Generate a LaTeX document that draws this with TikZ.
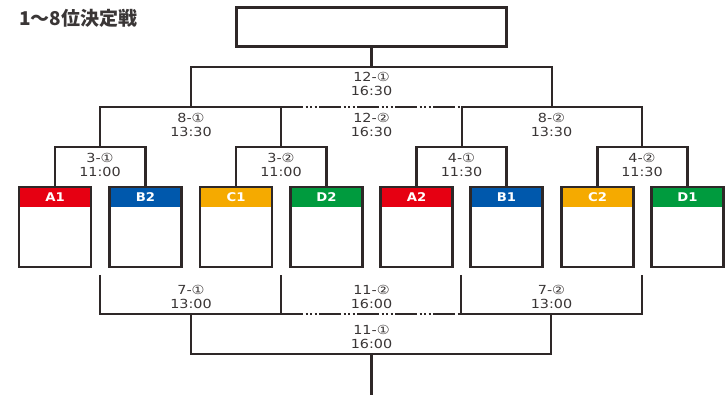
\documentclass[tikz,border=0pt]{standalone}
\usepackage{fontspec}
\newfontfamily\labfont[FakeStretch=1.15]{DejaVu Sans}
\newfontfamily\hdrfont[FakeStretch=1.1]{DejaVu Sans}
\newfontfamily\cjkfont{Noto Sans CJK JP}
\definecolor{lc}{HTML}{2E2828}
\definecolor{tc}{HTML}{3A3636}
\definecolor{cred}{RGB}{230,0,18}
\definecolor{cblue}{RGB}{0,88,172}
\definecolor{corange}{RGB}{245,170,0}
\definecolor{cgreen}{RGB}{0,155,62}
\tikzset{
  line/.style={draw=lc, line width=2.1pt},
  dotline/.style={draw=lc, line width=2.1pt, dash pattern=on 22pt off 2.5pt on 2pt off 2.5pt on 2pt off 2.5pt on 2pt off 2.5pt},
  team/.style={draw=lc, line width=2.1pt, minimum width=72pt, minimum height=80pt, inner sep=0pt, outer sep=0pt, anchor=north,
    path picture={\fill[#1] (path picture bounding box.north west) rectangle ([yshift=-20pt]path picture bounding box.north east);}},
  htxt/.style={text=white, font=\hdrfont\bfseries\fontsize{12}{12}\selectfont, inner sep=0pt},
  lab/.style={text=tc, font=\labfont\fontsize{12.5}{14}\selectfont, align=center, inner sep=0pt},
  topbox/.style={draw=lc, line width=2.1pt, minimum width=270pt, minimum height=39pt, inner sep=0pt, outer sep=0pt},
}
\begin{document}
\begin{tikzpicture}[x=1pt,y=-1pt]
\useasboundingbox (0,0) rectangle (726,395);
% title
\node[anchor=west, text=tc, font=\cjkfont\bfseries\fontsize{19}{19}\selectfont, inner sep=0pt] (title) at (19,18) {1～8位決定戦};
% top box
\node[topbox] (top) at (371.5,27) {};
% team boxes
\node[team=cred]    (b1) at (55,187) {};
\node[team=cblue]   (b2) at (145.5,187) {};
\node[team=corange] (b3) at (236,187) {};
\node[team=cgreen]  (b4) at (326.5,187) {};
\node[team=cred]    (b5) at (416.5,187) {};
\node[team=cblue]   (b6) at (506.5,187) {};
\node[team=corange] (b7) at (597.5,187) {};
\node[team=cgreen]  (b8) at (687.5,187) {};
\node[htxt] (h1) at ([yshift=-10pt]b1.north) {A1};
\node[htxt] (h2) at ([yshift=-10pt]b2.north) {B2};
\node[htxt] (h3) at ([yshift=-10pt]b3.north) {C1};
\node[htxt] (h4) at ([yshift=-10pt]b4.north) {D2};
\node[htxt] (h5) at ([yshift=-10pt]b5.north) {A2};
\node[htxt] (h6) at ([yshift=-10pt]b6.north) {B1};
\node[htxt] (h7) at ([yshift=-10pt]b7.north) {C2};
\node[htxt] (h8) at ([yshift=-10pt]b8.north) {D1};
% upper bracket junctions
\coordinate (m31) at (100,147);
\coordinate (m32) at (281,147);
\coordinate (m41) at (462,147);
\coordinate (m42) at (642,147);
\coordinate (m8a) at (191,107);
\coordinate (m8b) at (552,107);
\coordinate (m12) at (371.5,67);
\draw[line] (b1.north) |- (m31) -| (b2.north);
\draw[line] (b3.north) |- (m32) -| (b4.north);
\draw[line] (b5.north) |- (m41) -| (b6.north);
\draw[line] (b7.north) |- (m42) -| (b8.north);
\draw[line] (m31) |- (m8a) -| (m32);
\draw[line] (m41) |- (m8b) -| (m42);
\draw[line] (m8a) |- (m12) -| (m8b);
\draw[line] (m12) -- (top.south);
\draw[dotline] (m32 |- m8a) -- (m41 |- m8b);
% lower bracket
\coordinate (s1) at (100,275);
\coordinate (s2) at (281,275);
\coordinate (s3) at (461,275);
\coordinate (s4) at (642,275);
\coordinate (m7a) at (191,314);
\coordinate (m7b) at (551,314);
\coordinate (m11) at (371.5,354);
\coordinate (out) at (371.5,395);
\draw[line] (s1) |- (m7a) -| (s2);
\draw[line] (s3) |- (m7b) -| (s4);
\draw[line] (m7a) |- (m11) -| (m7b);
\draw[line] (m11) -- (out);
\draw[dotline] (s2 |- m7a) -- (s3 |- m7b);
% labels
\node[lab] (l121) at (371.5,84) {12-①\\16:30};
\node[lab] (l81)  at (191,124.5) {8-①\\13:30};
\node[lab] (l122) at (371.5,124.5) {12-②\\16:30};
\node[lab] (l82)  at (551.5,124.5) {8-②\\13:30};
\node[lab] (l31)  at (100,164.5) {3-①\\11:00};
\node[lab] (l32)  at (281,164.5) {3-②\\11:00};
\node[lab] (l41)  at (461.5,164.5) {4-①\\11:30};
\node[lab] (l42)  at (642,164.5) {4-②\\11:30};
\node[lab] (l71)  at (191,297) {7-①\\13:00};
\node[lab] (l112) at (371.5,296.5) {11-②\\16:00};
\node[lab] (l72)  at (551.5,297) {7-②\\13:00};
\node[lab] (l111) at (371.5,337) {11-①\\16:00};
\end{tikzpicture}
\end{document}
